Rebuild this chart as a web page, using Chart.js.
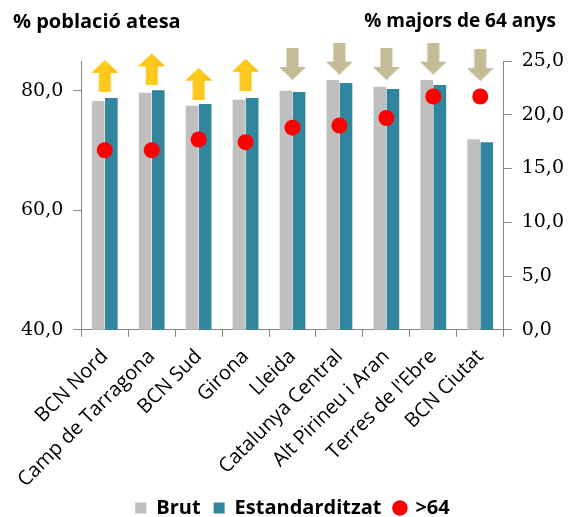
<!DOCTYPE html>
<html>
<head>
<meta charset="utf-8">
<script src="https://cdn.jsdelivr.net/npm/chart.js@4/dist/chart.umd.min.js"></script>
<style>
html,body{margin:0;padding:0;background:#fff;}
#wrap{position:relative;width:569px;height:517px;}
</style>
</head>
<body>
<div id="wrap"><canvas id="c"></canvas></div>
<script>
const categories = ['BCN Nord','Camp de Tarragona','BCN Sud','Girona','Lleida','Catalunya Central','Alt Pirineu i Aran',"Terres de l'Ebre",'BCN Ciutat'];
const brut = [78.3,79.7,77.5,78.5,80.0,81.8,80.7,81.8,71.9];
const estandarditzat = [78.8,80.1,77.8,78.8,79.8,81.3,80.3,81.0,71.4];
const majors64 = [16.7,16.7,17.7,17.45,18.8,19.0,19.7,21.7,21.7];
const arrowDir = ['up','up','up','up','down','down','down','down','down'];
const arrowPos = [82.5,83.6,81.2,82.7,84.5,85.4,84.5,85.4,84.3];
const leftTicks = [40,60,80];
const rightTicks = [0,5,10,15,20,25];
const seriesNames = ['Brut','Estandarditzat','>64'];
const titleLeft = '% població atesa';
const titleRight = '% majors de 64 anys';

function makeArrow(dir){
  const w=27,h=32,c=document.createElement('canvas');
  c.width=w;c.height=h;
  const g=c.getContext('2d');
  const head=13, shaft=12;
  g.beginPath();
  if(dir==='up'){
    g.moveTo(w/2,0);g.lineTo(w,head);g.lineTo(w/2+shaft/2,head);g.lineTo(w/2+shaft/2,h);
    g.lineTo(w/2-shaft/2,h);g.lineTo(w/2-shaft/2,head);g.lineTo(0,head);
    const gr=g.createLinearGradient(0,0,w,0);
    gr.addColorStop(0,'#FFC000');gr.addColorStop(0.5,'#FFCC22');gr.addColorStop(1,'#F5B800');
    g.fillStyle=gr;
  } else {
    g.moveTo(w/2,h);g.lineTo(w,h-head);g.lineTo(w/2+shaft/2,h-head);g.lineTo(w/2+shaft/2,0);
    g.lineTo(w/2-shaft/2,0);g.lineTo(w/2-shaft/2,h-head);g.lineTo(0,h-head);
    g.fillStyle='#C4BC96';
  }
  g.closePath();g.fill();
  return c;
}
const arrowStyles = arrowDir.map(makeArrow);
const fmt = v => Number(v).toFixed(1).replace('.',',');

const titlePlugin = {
  id:'titles',
  afterDraw(chart){
    const ctx=chart.ctx;
    ctx.save();
    ctx.fillStyle='#000';
    ctx.textBaseline='middle';
    ctx.font='bold 20px "Open Sans"';
    ctx.textAlign='left';
    ctx.fillText(titleLeft,13,22);
    ctx.font='bold 19px "Open Sans"';
    ctx.textAlign='right';
    ctx.fillText(titleRight,chart.width-13,22);
    ctx.restore();
  }
};

new Chart(document.getElementById('c'),{
  type:'bar',
  data:{
    labels:categories,
    datasets:[
      {label:seriesNames[0],data:brut,backgroundColor:'#BFBFBF',yAxisID:'y',order:0,pointStyle:'rect',categoryPercentage:0.56,barPercentage:0.96},
      {label:seriesNames[1],data:estandarditzat,backgroundColor:'#31859C',yAxisID:'y',order:0,pointStyle:'rect',categoryPercentage:0.56,barPercentage:0.96},
      {label:seriesNames[2],type:'line',data:majors64,showLine:false,yAxisID:'y1',order:-1,pointStyle:'circle',pointRadius:8,pointHoverRadius:8,backgroundColor:'#FF0000',borderColor:'#FF0000',borderWidth:0,pointBorderWidth:0},
      {label:'arrows',type:'line',data:arrowPos,showLine:false,yAxisID:'y',order:-2,pointStyle:arrowStyles,clip:false,pointRadius:14}
    ]
  },
  options:{
    responsive:true,maintainAspectRatio:false,animation:false,
    layout:{padding:{top:61,left:11,right:-5,bottom:-11}},
    plugins:{
      tooltip:{enabled:false},
      legend:{
        position:'bottom',
        labels:{
          filter:(it)=>it.datasetIndex!==3,
          sort:(a,b)=>a.datasetIndex-b.datasetIndex,
          usePointStyle:true,boxWidth:11,boxHeight:11,padding:13,
          color:'#000',font:{family:'"Open Sans"',size:20,weight:'bold'}
        }
      }
    },
    scales:{
      x:{
        grid:{display:true,drawOnChartArea:false,drawTicks:true,tickLength:7,color:'#868686',offset:true},
        border:{display:true,color:'#868686'},
        ticks:{minRotation:45,maxRotation:45,color:'#000',font:{family:'"Open Sans"',size:20},padding:8},
        afterFit:(s)=>{s.height-=15;}
      },
      y:{
        position:'left',min:40,max:85,
        afterBuildTicks:(s)=>{s.ticks=leftTicks.map(v=>({value:v}));},
        grid:{display:true,drawOnChartArea:false,drawTicks:true,tickLength:8,color:'#868686'},
        border:{display:true,color:'#868686'},
        ticks:{callback:fmt,color:'#000',font:{family:'"DejaVu Serif"',size:19},padding:10}
      },
      y1:{
        position:'right',min:0,max:25,
        afterBuildTicks:(s)=>{s.ticks=rightTicks.map(v=>({value:v}));},
        grid:{display:true,drawOnChartArea:false,drawTicks:true,tickLength:8,color:'#868686'},
        border:{display:true,color:'#868686'},
        ticks:{callback:fmt,color:'#000',font:{family:'"DejaVu Serif"',size:19},padding:10}
      }
    }
  },
  plugins:[titlePlugin]
});
</script>
</body>
</html>
